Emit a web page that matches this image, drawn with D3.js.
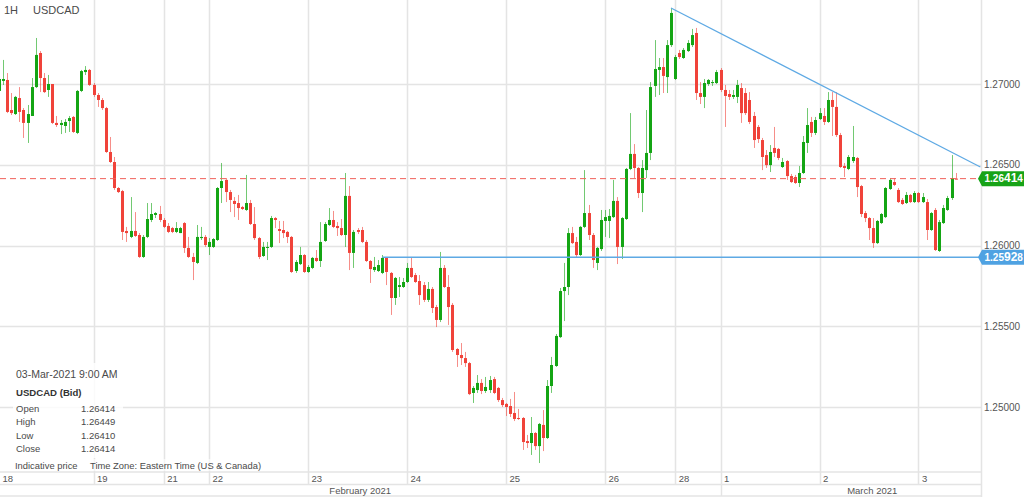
<!DOCTYPE html>
<html><head><meta charset="utf-8">
<script src="https://cdn.jsdelivr.net/npm/d3@7"></script>
<style>
html,body{margin:0;padding:0;background:#fff;overflow:hidden}
svg{display:block;font-family:"Liberation Sans",Arial,sans-serif}
</style></head><body>
<svg id="chart" width="1024" height="497"></svg>
<script>
// ---------------- DATA ----------------
const symbol = "USDCAD";
const interval = "1H";
const lastTime = "03-Mar-2021 9:00 AM";

const openP = [
1.26957,1.27019,1.27025,1.26839,1.26814,1.26913,1.26839,1.26759,1.26802,1.26981,
1.27192,1.27037,1.26963,1.27000,1.26759,1.26746,1.26740,1.26771,1.26796,1.26697,
1.26957,1.27074,1.27087,1.26994,1.26932,1.26901,1.26851,1.26579,1.26517,1.26356,
1.26337,1.26090,1.26053,1.26090,1.26065,1.25929,1.26053,1.26158,1.26189,1.26195,
1.26158,1.26121,1.26108,1.26084,1.26077,1.26139,1.25985,1.25929,1.25892,1.26046,
1.26053,1.25991,1.25991,1.26034,1.26356,1.26406,1.26331,1.26276,1.26263,1.26238,
1.26220,1.26263,1.26133,1.26046,1.25935,1.25985,1.25991,1.26170,1.26102,1.26096,
1.26084,1.26053,1.25842,1.25885,1.25941,1.25836,1.25861,1.25923,1.25904,1.26028,
1.26127,1.26158,1.26121,1.26108,1.26065,1.26307,1.25954,1.26096,1.26096,1.26022,
1.25904,1.25848,1.25842,1.25830,1.25923,1.25830,1.25675,1.25743,1.25743,1.25774,
1.25861,1.25817,1.25780,1.25755,1.25663,1.25731,1.25619,1.25539,1.25861,1.25743,
1.25632,1.25359,1.25322,1.25303,1.25272,1.25087,1.25105,1.25149,1.25099,1.25105,
1.25173,1.25118,1.25043,1.25019,1.25006,1.24963,1.24932,1.24932,1.24789,1.24777,
1.24839,1.24758,1.24889,1.24808,1.25130,1.25254,1.25433,1.25718,1.25743,1.26077,
1.26022,1.25941,1.26115,1.26201,1.26065,1.25892,1.25978,1.26152,1.26152,1.26176,
1.26276,1.25991,1.26164,1.26474,1.26567,1.26480,1.26325,1.26467,1.26573,1.26988,
1.27087,1.27105,1.27043,1.27241,1.27031,1.27192,1.27161,1.27204,1.27241,1.27316,
1.26944,1.26920,1.27000,1.27006,1.27006,1.27087,1.26963,1.26938,1.26920,1.26920,
1.26975,1.26944,1.26901,1.26802,1.26734,1.26653,1.26560,1.26498,1.26604,1.26598,
1.26486,1.26523,1.26430,1.26424,1.26387,1.26449,1.26635,1.26765,1.26697,1.26783,
1.26802,1.26765,1.26901,1.26858,1.26684,1.26492,1.26474,1.26523,1.26542,1.26368,
1.26201,1.26170,1.26108,1.26015,1.26139,1.26176,1.26350,1.26393,1.26344,1.26282,
1.26263,1.26313,1.26269,1.26325,1.26269,1.26269,1.26096,1.26220,1.25966,1.26139,
1.26220,1.26294,1.26414];

const highP = [
1.27068,1.27149,1.27068,1.26944,1.26926,1.26981,1.26851,1.26870,1.27037,1.27285,
1.27204,1.27068,1.27056,1.27000,1.26802,1.26777,1.26783,1.26802,1.26802,1.26963,
1.27087,1.27111,1.27093,1.27006,1.26944,1.26913,1.26858,1.26672,1.26548,1.26362,
1.26344,1.26115,1.26300,1.26207,1.26077,1.26065,1.26263,1.26263,1.26207,1.26245,
1.26170,1.26139,1.26115,1.26145,1.26115,1.26145,1.26053,1.25954,1.26127,1.26115,
1.26065,1.26046,1.26046,1.26362,1.26511,1.26418,1.26344,1.26300,1.26313,1.26245,
1.26437,1.26282,1.26238,1.26053,1.26022,1.26022,1.26183,1.26176,1.26152,1.26152,
1.26090,1.26059,1.25910,1.25991,1.25947,1.25879,1.25929,1.25972,1.26145,1.26145,
1.26232,1.26214,1.26145,1.26164,1.26449,1.26368,1.26096,1.26108,1.26115,1.26034,
1.25910,1.25929,1.25910,1.25941,1.25929,1.25836,1.25805,1.25805,1.25799,1.25892,
1.25929,1.25830,1.25817,1.25774,1.25774,1.25743,1.25632,1.25960,1.25879,1.25817,
1.25644,1.25365,1.25396,1.25341,1.25279,1.25130,1.25198,1.25173,1.25186,1.25192,
1.25186,1.25124,1.25056,1.25025,1.25050,1.25093,1.24988,1.24938,1.24827,1.24938,
1.24845,1.24901,1.24981,1.25167,1.25310,1.25452,1.25737,1.25892,1.26108,1.26115,
1.26053,1.26121,1.26467,1.26251,1.26077,1.25991,1.26220,1.26220,1.26226,1.26406,
1.26300,1.26176,1.26480,1.26820,1.26628,1.26486,1.26529,1.26839,1.27012,1.27272,
1.27161,1.27161,1.27272,1.27471,1.27180,1.27211,1.27223,1.27272,1.27341,1.27347,
1.27012,1.27031,1.27031,1.27025,1.27087,1.27099,1.26994,1.26963,1.26963,1.27025,
1.27006,1.26975,1.26950,1.26827,1.26746,1.26666,1.26591,1.26622,1.26734,1.26604,
1.26542,1.26529,1.26443,1.26437,1.26492,1.26678,1.26851,1.26796,1.26796,1.26851,
1.26851,1.26950,1.26950,1.26950,1.26697,1.26511,1.26560,1.26740,1.26548,1.26375,
1.26214,1.26176,1.26170,1.26158,1.26201,1.26362,1.26418,1.26418,1.26356,1.26294,
1.26331,1.26319,1.26337,1.26331,1.26325,1.26288,1.26207,1.26232,1.26158,1.26251,
1.26307,1.26560,1.26449];

const lowP = [
1.26944,1.26994,1.26820,1.26808,1.26808,1.26765,1.26666,1.26635,1.26802,1.26975,
1.26950,1.26944,1.26920,1.26752,1.26734,1.26690,1.26697,1.26703,1.26697,1.26690,
1.26950,1.27056,1.26988,1.26920,1.26858,1.26839,1.26573,1.26511,1.26344,1.26325,
1.26034,1.26022,1.26046,1.26053,1.25923,1.25923,1.26046,1.26145,1.26170,1.26145,
1.26108,1.26077,1.26077,1.26077,1.26077,1.25954,1.25923,1.25786,1.25885,1.26034,
1.25991,1.25941,1.25985,1.26028,1.26263,1.26269,1.26207,1.26176,1.26158,1.26220,
1.26214,1.26127,1.26034,1.25916,1.25929,1.25910,1.25985,1.26108,1.26015,1.26046,
1.26015,1.25830,1.25830,1.25879,1.25830,1.25830,1.25854,1.25898,1.25867,1.26022,
1.26121,1.26108,1.26059,1.26059,1.25991,1.25848,1.25861,1.26071,1.26015,1.25898,
1.25768,1.25836,1.25836,1.25823,1.25755,1.25570,1.25632,1.25681,1.25737,1.25768,
1.25799,1.25768,1.25632,1.25650,1.25650,1.25582,1.25495,1.25526,1.25737,1.25508,
1.25341,1.25248,1.25260,1.25248,1.25074,1.25025,1.25087,1.25080,1.25087,1.25087,
1.25080,1.25031,1.25000,1.24944,1.24938,1.24913,1.24920,1.24734,1.24746,1.24703,
1.24734,1.24653,1.24727,1.24802,1.25087,1.25248,1.25427,1.25532,1.25693,1.26009,
1.25929,1.25935,1.26108,1.26034,1.25861,1.25848,1.25966,1.26053,1.26046,1.26170,
1.25885,1.25916,1.26158,1.26467,1.26418,1.26294,1.26207,1.26418,1.26529,1.26920,
1.26932,1.26944,1.26944,1.27229,1.27025,1.27155,1.27155,1.27198,1.27229,1.26901,
1.26876,1.26851,1.26988,1.26988,1.27000,1.26950,1.26734,1.26901,1.26907,1.26882,
1.26759,1.26808,1.26752,1.26604,1.26635,1.26467,1.26480,1.26455,1.26548,1.26529,
1.26480,1.26406,1.26387,1.26381,1.26362,1.26443,1.26573,1.26672,1.26684,1.26777,
1.26746,1.26759,1.26678,1.26672,1.26480,1.26424,1.26467,1.26511,1.26300,1.26176,
1.26145,1.26034,1.25985,1.26009,1.26133,1.26170,1.26344,1.26368,1.26263,1.26251,
1.26257,1.26263,1.26263,1.26263,1.26263,1.26034,1.26090,1.25966,1.25960,1.26133,
1.26214,1.26282,1.26410];

const closeP = [
1.27031,1.27031,1.26827,1.26820,1.26920,1.26827,1.26759,1.26814,1.26981,1.27180,
1.27037,1.26950,1.27000,1.26759,1.26746,1.26759,1.26765,1.26789,1.26703,1.26957,
1.27080,1.27087,1.26994,1.26932,1.26901,1.26851,1.26579,1.26517,1.26356,1.26331,
1.26084,1.26077,1.26090,1.26059,1.25929,1.26053,1.26164,1.26195,1.26201,1.26158,
1.26115,1.26084,1.26084,1.26108,1.26108,1.25985,1.25929,1.25898,1.26053,1.26053,
1.26003,1.26022,1.26040,1.26356,1.26399,1.26331,1.26282,1.26257,1.26232,1.26226,
1.26263,1.26133,1.26046,1.25929,1.25991,1.25991,1.26170,1.26158,1.26090,1.26077,
1.26053,1.25836,1.25898,1.25941,1.25836,1.25867,1.25923,1.25904,1.26022,1.26133,
1.26158,1.26115,1.26108,1.26065,1.26307,1.25954,1.26084,1.26084,1.26022,1.25904,
1.25854,1.25867,1.25879,1.25923,1.25836,1.25675,1.25799,1.25755,1.25774,1.25861,
1.25805,1.25774,1.25693,1.25663,1.25731,1.25613,1.25539,1.25861,1.25743,1.25619,
1.25353,1.25322,1.25303,1.25272,1.25080,1.25118,1.25149,1.25099,1.25124,1.25167,
1.25087,1.25043,1.25012,1.25000,1.24957,1.24926,1.24926,1.24783,1.24777,1.24839,
1.24758,1.24895,1.24808,1.25130,1.25260,1.25440,1.25718,1.25743,1.26077,1.26015,
1.25941,1.26115,1.26201,1.26065,1.25910,1.25985,1.26158,1.26176,1.26183,1.26276,
1.25991,1.26170,1.26474,1.26567,1.26480,1.26325,1.26480,1.26573,1.26981,1.27093,
1.27105,1.27050,1.27241,1.27440,1.27167,1.27167,1.27211,1.27254,1.27303,1.26944,
1.26920,1.27006,1.27025,1.27012,1.27074,1.26963,1.26926,1.26920,1.26932,1.26994,
1.26820,1.26820,1.26765,1.26653,1.26659,1.26548,1.26498,1.26579,1.26573,1.26542,
1.26517,1.26430,1.26393,1.26387,1.26449,1.26641,1.26746,1.26697,1.26777,1.26820,
1.26765,1.26901,1.26858,1.26684,1.26486,1.26480,1.26548,1.26548,1.26362,1.26195,
1.26170,1.26108,1.26015,1.26152,1.26195,1.26356,1.26406,1.26375,1.26269,1.26257,
1.26313,1.26269,1.26325,1.26269,1.26300,1.26096,1.26201,1.25972,1.26145,1.26232,
1.26294,1.26418,1.26414];

// day starts (candle index of first hourly bar of each day)
const dayLabels     = ["18","19","21","22","23","24","25","26","28","1","2","3"];
const dayStartIndex = [-1, 23, 40, 51, 75, 99, 123, 147, 164, 175, 199, 223];
const monthLabels     = ["February 2021","March 2021"];
const monthStartIndex = [-1, 175];
const priceTicks = [1.25, 1.255, 1.26, 1.265, 1.27];

const currentPrice = 1.26414;
const supportLevel = 1.25928;
const supportStartIndex = 93;
const trendStart = {i: 163, p: 1.27471};
const trendEnd   = {i: 238, p: 1.26486};

// ---------------- LAYOUT ----------------
const W = 1024, H = 497;
const plotR = 981, plotB = 472, stripMid = 484.5, stripB = 496;
const GREEN = "#14a514", RED = "#f0433a", GRID = "#e4e4e4", TXT = "#4a4a4a";
const BLUE = "#5ea9e4";

const svg = d3.select("#chart");
const x = d3.scaleLinear().domain([0, 232]).range([-1.375, 955.625]);
const y = d3.scaleLinear().domain([1.25, 1.27]).range([407, 84]);
const fmt = d3.format(".5f");

svg.append("defs").append("clipPath").attr("id","plotclip")
  .append("rect").attr("x",0).attr("y",0).attr("width",plotR).attr("height",plotB);

// horizontal gridlines
svg.append("g").selectAll("line").data(priceTicks).join("line")
  .attr("x1",0).attr("x2",plotR)
  .attr("y1",d=>Math.round(y(d))+0.5).attr("y2",d=>Math.round(y(d))+0.5)
  .attr("stroke",GRID).attr("stroke-width",1.5);

// vertical day gridlines (through day strip)
svg.append("g").selectAll("line").data(dayStartIndex.filter(d=>x(d)>=0)).join("line")
  .attr("x1",d=>Math.round(x(d))+0.5).attr("x2",d=>Math.round(x(d))+0.5)
  .attr("y1",0).attr("y2",stripMid)
  .attr("stroke",GRID).attr("stroke-width",1.5);

// strip lines
[plotB, stripMid, stripB].forEach(yy=>{
  svg.append("line").attr("x1",0).attr("x2",plotR).attr("y1",yy).attr("y2",yy)
    .attr("stroke",GRID).attr("stroke-width",1.5);
});
// month dividers
svg.append("g").selectAll("line").data(monthStartIndex.filter(d=>x(d)>=0)).join("line")
  .attr("x1",d=>Math.round(x(d))+0.5).attr("x2",d=>Math.round(x(d))+0.5)
  .attr("y1",stripMid).attr("y2",stripB)
  .attr("stroke",GRID).attr("stroke-width",1.5);
// right axis line
svg.append("line").attr("x1",plotR+0.5).attr("x2",plotR+0.5).attr("y1",0).attr("y2",H)
  .attr("stroke",GRID).attr("stroke-width",1.5);

// price axis
const yAxisG = svg.append("g").attr("transform",`translate(${plotR},0)`)
  .call(d3.axisRight(y).tickValues(priceTicks).tickFormat(fmt).tickSize(0).tickPadding(3));
yAxisG.select(".domain").remove();
yAxisG.selectAll("text").attr("font-size",10).attr("fill","#555")
  .attr("font-family",'"Liberation Sans",Arial,sans-serif');

// day axis
const xAxisG = svg.append("g").attr("transform",`translate(0,${plotB})`)
  .call(d3.axisBottom(x).tickValues(dayStartIndex).tickFormat((d,k)=>dayLabels[k]).tickSize(0));
xAxisG.select(".domain").remove();
xAxisG.selectAll("text")
  .attr("text-anchor","start").attr("dy",null).attr("y",9.5)
  .attr("x",d=>Math.max(2 - x(d), 3))
  .attr("font-size",9.5).attr("fill","#555")
  .attr("font-family",'"Liberation Sans",Arial,sans-serif');

// month labels
const monthEdges = monthStartIndex.map(d=>Math.max(0, x(d)));
svg.append("g").selectAll("text").data(monthLabels).join("text")
  .attr("x",(d,k)=> (monthEdges[k] + (k+1<monthEdges.length ? monthEdges[k+1] : W))/2)
  .attr("y",493.5).attr("text-anchor","middle")
  .attr("font-size",9.5).attr("fill","#555").text(d=>d);

// candles
const candles = openP.map((o,i)=>({i, o, h:highP[i], l:lowP[i], c:closeP[i]}));
const cg = svg.append("g").attr("clip-path","url(#plotclip)");
const cs = cg.selectAll("g.c").data(candles).join("g").attr("class","c");
cs.append("line")
  .attr("x1",d=>Math.round(x(d.i))+0.5).attr("x2",d=>Math.round(x(d.i))+0.5)
  .attr("y1",d=>y(d.h)).attr("y2",d=>y(d.l))
  .attr("stroke",d=>d.c>d.o?GREEN:RED).attr("stroke-opacity",0.6).attr("stroke-width",1);
cs.append("rect")
  .attr("x",d=>Math.round(x(d.i))-1).attr("width",3)
  .attr("y",d=>y(Math.max(d.o,d.c)))
  .attr("height",d=>Math.max(1, Math.abs(y(d.o)-y(d.c))))
  .attr("fill",d=>d.c>d.o?GREEN:RED);

// current price dashed line
svg.append("line").attr("x1",0).attr("x2",plotR)
  .attr("y1",y(currentPrice)).attr("y2",y(currentPrice))
  .attr("stroke","#f0605a").attr("stroke-width",1).attr("stroke-dasharray","6,4");

// support line
svg.append("line").attr("x1",x(supportStartIndex)).attr("x2",plotR)
  .attr("y1",y(supportLevel)).attr("y2",y(supportLevel))
  .attr("stroke",BLUE).attr("stroke-width",1.5);

// trend line
svg.append("line").attr("clip-path","url(#plotclip)")
  .attr("x1",x(trendStart.i)).attr("y1",y(trendStart.p))
  .attr("x2",x(trendEnd.i)).attr("y2",y(trendEnd.p))
  .attr("stroke",BLUE).attr("stroke-width",1.2);

// price tags
function tag(price, fill){
  const yc = y(price);
  svg.append("path")
    .attr("d",`M${plotR-3},${yc} L${plotR+1},${yc-7.5} L${W},${yc-7.5} L${W},${yc+7.5} L${plotR+1},${yc+7.5} Z`)
    .attr("fill",fill);
  const s = fmt(price);
  const t = svg.append("text").attr("x",plotR+3.5).attr("y",yc).attr("dy","0.36em")
    .attr("fill","#fff").attr("font-weight","bold").attr("font-size",10);
  t.append("tspan").text(s.slice(0,4));
  t.append("tspan").attr("font-size",12).text(s.slice(4,6));
  t.append("tspan").text(s.slice(6));
}
tag(supportLevel, "#4fa2e2");
tag(currentPrice, "#17a317");

// header
svg.append("text").attr("x",4).attr("y",14).attr("font-size",11).attr("fill",TXT).text(interval);
svg.append("text").attr("x",33).attr("y",14).attr("font-size",11).attr("fill",TXT).text(symbol);

// info box
const last = candles[candles.length-1];
svg.append("rect").attr("x",13).attr("y",363).attr("width",110).attr("height",95)
  .attr("fill","#fff").attr("fill-opacity",0.8);
svg.append("text").attr("x",16).attr("y",377.5).attr("font-size",10.5).attr("fill",TXT).text(lastTime);
svg.append("text").attr("x",16).attr("y",396).attr("font-size",9.6).attr("font-weight","bold")
  .attr("fill","#333").text(symbol + " (Bid)");
const rows = [["Open", last.o],["High", last.h],["Low", last.l],["Close", last.c]];
rows.forEach((r,k)=>{
  const yy = 411.5 + k*13.5;
  svg.append("text").attr("x",16).attr("y",yy).attr("font-size",9.5).attr("fill",TXT).text(r[0]);
  svg.append("text").attr("x",81).attr("y",yy).attr("font-size",9.5).attr("fill",TXT).text(fmt(r[1]));
});
svg.append("rect").attr("x",13).attr("y",459).attr("width",250).attr("height",12)
  .attr("fill","#fff").attr("fill-opacity",0.6);
svg.append("text").attr("x",15).attr("y",468.5).attr("font-size",9.4).attr("fill",TXT).text("Indicative price");
svg.append("text").attr("x",90).attr("y",468.5).attr("font-size",9.4).attr("fill",TXT)
  .text("Time Zone: Eastern Time (US & Canada)");
</script>
</body></html>
